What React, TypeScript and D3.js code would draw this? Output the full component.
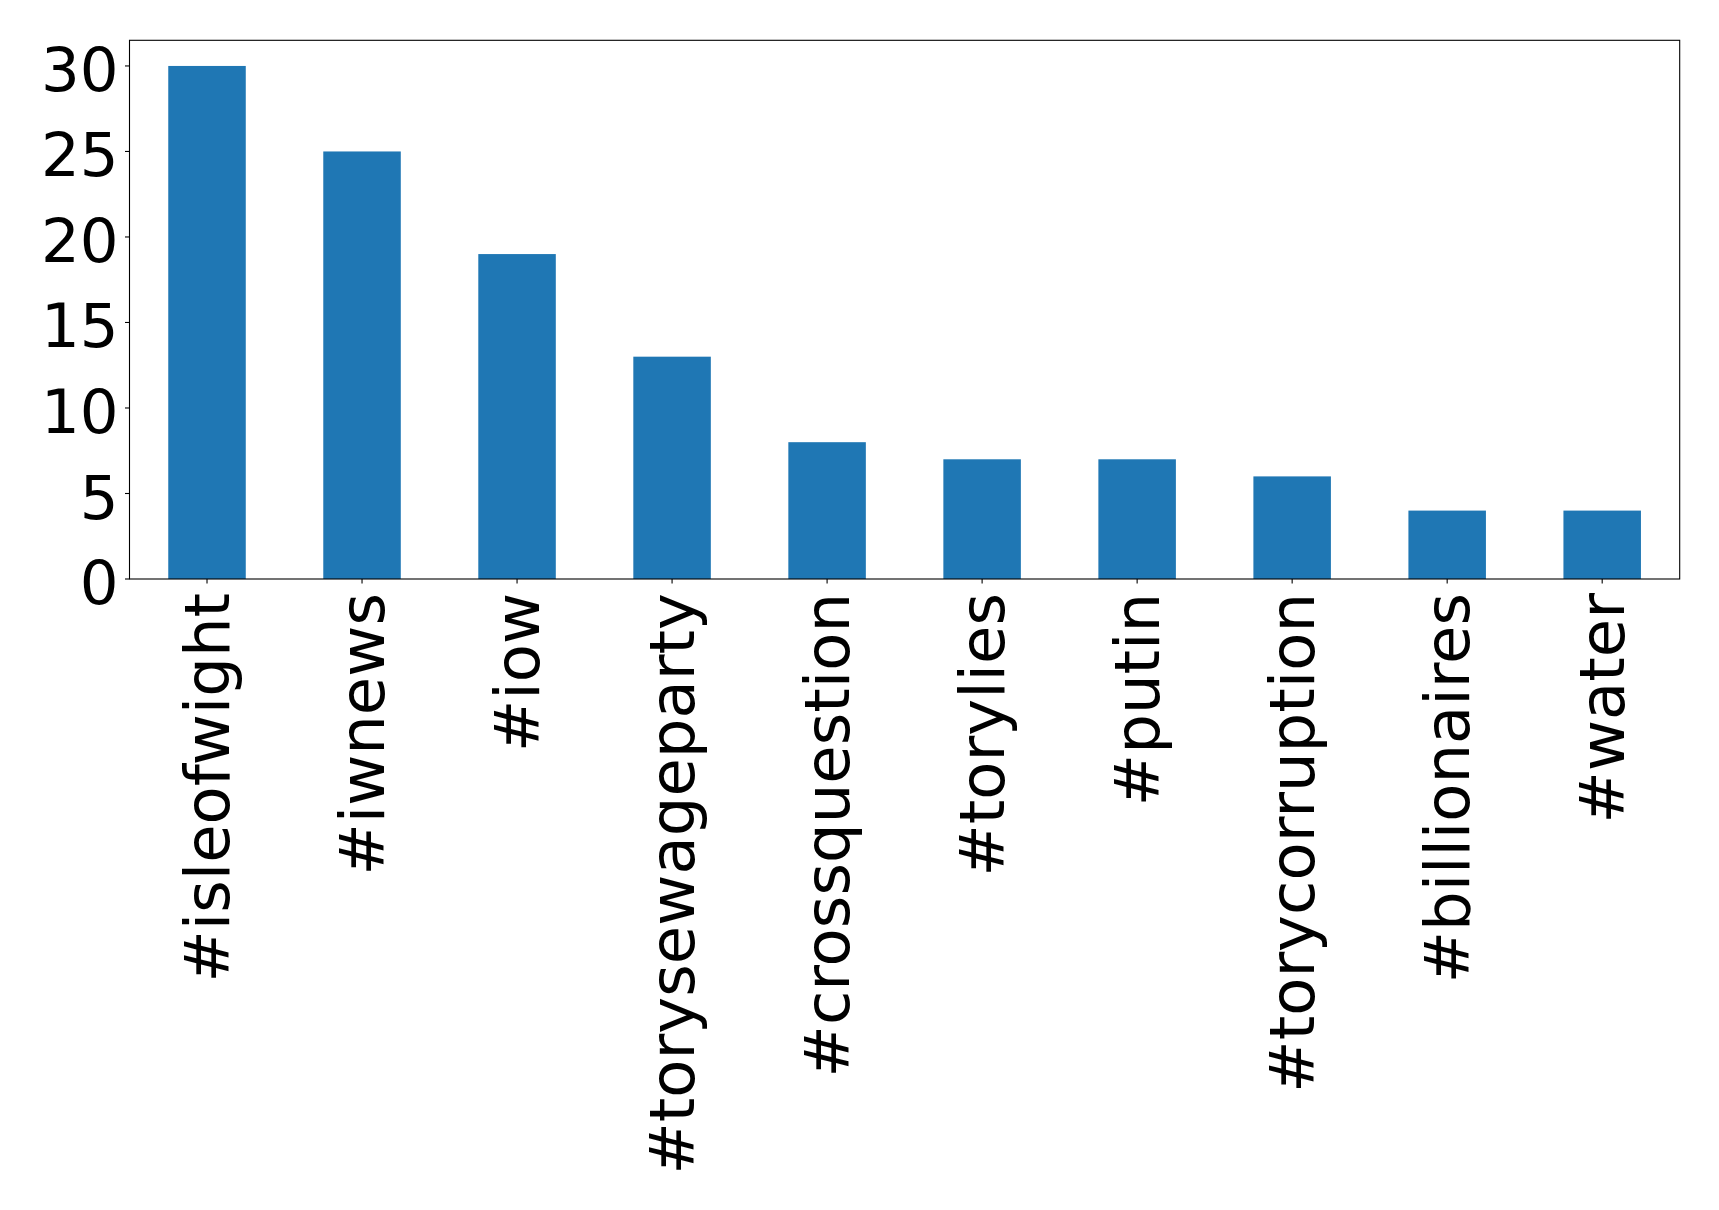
import React from "react";
import * as d3 from "d3";

const categories = [
  "#isleofwight",
  "#iwnews",
  "#iow",
  "#torysewageparty",
  "#crossquestion",
  "#torylies",
  "#putin",
  "#torycorruption",
  "#billionaires",
  "#water",
];
const counts = [30, 25, 19, 13, 8, 7, 7, 6, 4, 4];
const yTicks = [0, 5, 10, 15, 20, 25, 30];

const W = 1719;
const H = 1210;
const left = 129.5;
const right = 1679.7;
const top = 40.3;
const bottom = 579;
const FONT = "DejaVu Sans, sans-serif";
const FS = 62.5;
const FSY = 61;

export default function App() {
  const x = d3
    .scaleLinear()
    .domain([-0.5, categories.length - 0.5])
    .range([left, right]);
  const y = d3.scaleLinear().domain([0, 31.5]).range([bottom, top]);
  const bw = x(0.25) - x(-0.25);

  return (
    <svg
      width={W}
      height={H}
      style={{ position: "absolute", left: 0, top: 0, background: "#fff" }}
      xmlns="http://www.w3.org/2000/svg"
    >
      <rect x={0} y={0} width={W} height={H} fill="#fff" />
      {counts.map((v, i) => (
        <rect
          key={i}
          x={x(i) - bw / 2}
          y={y(v)}
          width={bw}
          height={y(0) - y(v)}
          fill="#1f77b4"
        />
      ))}
      <rect
        x={left}
        y={top}
        width={right - left}
        height={bottom - top}
        fill="none"
        stroke="#000"
        strokeWidth={1.1}
      />
      {yTicks.map((t) => (
        <g key={t}>
          <line x1={left - 4.5} x2={left} y1={y(t)} y2={y(t)} stroke="#000" strokeWidth={1.1} />
          <text
            x={118.5}
            y={y(t)}
            dy="0.41em"
            textAnchor="end"
            fontFamily={FONT}
            fontSize={FSY}
            fill="#000"
          >
            {t}
          </text>
        </g>
      ))}
      {categories.map((c, i) => (
        <g key={c}>
          <line x1={x(i)} x2={x(i)} y1={bottom} y2={bottom + 4.5} stroke="#000" strokeWidth={1.1} />
          <text
            transform={`translate(${x(i)},${bottom + 14}) rotate(-90)`}
            dy="0.35em"
            textAnchor="end"
            fontFamily={FONT}
            fontSize={FS}
            fill="#000"
          >
            {c}
          </text>
        </g>
      ))}
    </svg>
  );
}
